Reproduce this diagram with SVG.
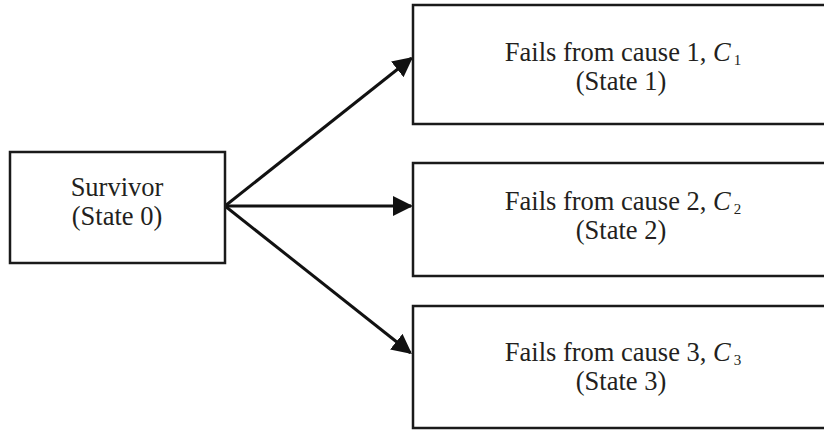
<svg xmlns="http://www.w3.org/2000/svg" width="824" height="430" viewBox="0 0 824 430">
  <style>
    .box { fill: #ffffff; stroke: #1a1a1a; stroke-width: 2.5; }
    .lbl { font-family: "Liberation Serif", "Times New Roman", serif; font-size: 26.5px; fill: #231f20; text-anchor: middle; }
    .it { font-style: italic; }
    .sub { font-size: 15px; }
    .conn { stroke: #111111; stroke-width: 3; fill: none; }
  </style>
  <defs>
    <marker id="arrow" markerUnits="userSpaceOnUse" markerWidth="20" markerHeight="20" viewBox="0 0 20 20" refX="18" refY="10" orient="auto">
      <path d="M0,0 L20,10 L0,20 z" fill="#111111"/>
    </marker>
  </defs>
  <rect width="824" height="430" fill="#ffffff"/>

  <g id="connectors">
    <line class="conn" x1="225" y1="206" x2="411.4" y2="58.2" marker-end="url(#arrow)"/>
    <line class="conn" x1="225" y1="206" x2="411" y2="206" marker-end="url(#arrow)"/>
    <line class="conn" x1="225" y1="206" x2="410.4" y2="352.8" marker-end="url(#arrow)"/>
  </g>

  <g id="survivor">
    <rect class="box" x="10" y="152" width="215" height="111"/>
    <text class="lbl" x="117" y="196">Survivor</text>
    <text class="lbl" x="117" y="225">(State 0)</text>
  </g>

  <g id="state1">
    <rect class="box" x="413" y="5" width="420" height="119"/>
    <text class="lbl" x="623" y="61">Fails from cause 1, <tspan class="it">C</tspan><tspan class="sub" dx="3" dy="4">1</tspan></text>
    <text class="lbl" x="621" y="90">(State 1)</text>
  </g>

  <g id="state2">
    <rect class="box" x="413" y="163" width="420" height="113"/>
    <text class="lbl" x="623" y="210">Fails from cause 2, <tspan class="it">C</tspan><tspan class="sub" dx="3" dy="4">2</tspan></text>
    <text class="lbl" x="621" y="239">(State 2)</text>
  </g>

  <g id="state3">
    <rect class="box" x="413" y="306" width="420" height="122"/>
    <text class="lbl" x="623" y="361">Fails from cause 3, <tspan class="it">C</tspan><tspan class="sub" dx="3" dy="4">3</tspan></text>
    <text class="lbl" x="621" y="390">(State 3)</text>
  </g>
</svg>
